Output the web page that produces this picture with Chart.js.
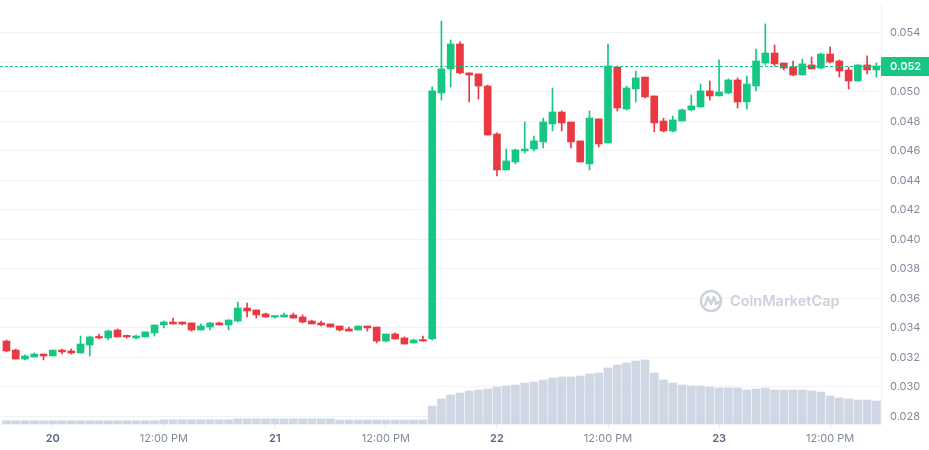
<!DOCTYPE html>
<html>
<head>
<meta charset="utf-8">
<script src="https://cdn.jsdelivr.net/npm/chart.js@4.4.1/dist/chart.umd.min.js"></script>
<style>
  html, body { margin: 0; padding: 0; background: #fff; }
  #wrap { width: 929px; height: 450px; }
</style>
</head>
<body>
<div id="wrap"><canvas id="chart" width="929" height="450"></canvas></div>
<script>
// hourly candles, 19th 19:00 -> 23rd 17:00
const openPrices = [
  0.03310, 0.03249, 0.03188, 0.03202, 0.03222, 0.03209, 0.03249, 0.03243, 0.03229, 0.03283,
  0.03338, 0.03331, 0.03385, 0.03344, 0.03331, 0.03338, 0.03365, 0.03419, 0.03439, 0.03439,
  0.03433, 0.03385, 0.03405, 0.03433, 0.03419, 0.03446, 0.03534, 0.03521, 0.03494, 0.03473,
  0.03473, 0.03487, 0.03473, 0.03446, 0.03433, 0.03426, 0.03412, 0.03392, 0.03385, 0.03412,
  0.03405, 0.03310, 0.03358, 0.03331, 0.03297, 0.03317, 0.03324, 0.04992, 0.05155, 0.05324,
  0.05128, 0.05121, 0.05039, 0.04714, 0.04470, 0.04524, 0.04599, 0.04612, 0.04660, 0.04782,
  0.04863, 0.04795, 0.04667, 0.04511, 0.04816, 0.04653, 0.05168, 0.04883, 0.05019, 0.05100,
  0.04972, 0.04802, 0.04734, 0.04802, 0.04877, 0.04897, 0.05006, 0.04972, 0.04992, 0.05080,
  0.04931, 0.05039, 0.05195, 0.05263, 0.05195, 0.05168, 0.05114, 0.05182, 0.05161, 0.05256,
  0.05209, 0.05148, 0.05073, 0.05182, 0.05148
];
const highPrices = [
  0.03317, 0.03256, 0.03216, 0.03229, 0.03222, 0.03249, 0.03256, 0.03256, 0.03344, 0.03344,
  0.03358, 0.03385, 0.03392, 0.03351, 0.03351, 0.03372, 0.03419, 0.03446, 0.03466, 0.03439,
  0.03433, 0.03426, 0.03433, 0.03439, 0.03453, 0.03575, 0.03568, 0.03521, 0.03500, 0.03480,
  0.03500, 0.03500, 0.03487, 0.03453, 0.03446, 0.03426, 0.03412, 0.03405, 0.03412, 0.03412,
  0.03405, 0.03358, 0.03365, 0.03338, 0.03324, 0.03344, 0.05033, 0.05480, 0.05351, 0.05338,
  0.05128, 0.05121, 0.05046, 0.04721, 0.04612, 0.04612, 0.04795, 0.04700, 0.04822, 0.05026,
  0.04870, 0.04795, 0.04667, 0.04870, 0.04816, 0.05324, 0.05175, 0.05039, 0.05141, 0.05100,
  0.04972, 0.04822, 0.04836, 0.04883, 0.04978, 0.05053, 0.05073, 0.05216, 0.05087, 0.05094,
  0.05107, 0.05290, 0.05460, 0.05317, 0.05195, 0.05209, 0.05222, 0.05236, 0.05263, 0.05304,
  0.05216, 0.05168, 0.05182, 0.05243, 0.05195
];
const lowPrices = [
  0.03236, 0.03188, 0.03182, 0.03202, 0.03182, 0.03209, 0.03222, 0.03222, 0.03229, 0.03209,
  0.03324, 0.03317, 0.03338, 0.03331, 0.03324, 0.03338, 0.03344, 0.03399, 0.03426, 0.03419,
  0.03378, 0.03385, 0.03385, 0.03419, 0.03385, 0.03439, 0.03473, 0.03466, 0.03473, 0.03466,
  0.03473, 0.03466, 0.03433, 0.03426, 0.03412, 0.03405, 0.03378, 0.03378, 0.03385, 0.03378,
  0.03297, 0.03304, 0.03324, 0.03290, 0.03297, 0.03310, 0.03317, 0.04944, 0.05033, 0.05121,
  0.04931, 0.04951, 0.04707, 0.04429, 0.04470, 0.04511, 0.04585, 0.04599, 0.04619, 0.04734,
  0.04734, 0.04619, 0.04524, 0.04470, 0.04626, 0.04653, 0.04870, 0.04877, 0.04931, 0.04958,
  0.04728, 0.04728, 0.04728, 0.04802, 0.04870, 0.04897, 0.04944, 0.04972, 0.04985, 0.04890,
  0.04883, 0.05006, 0.05182, 0.05175, 0.05148, 0.05107, 0.05114, 0.05155, 0.05155, 0.05195,
  0.05100, 0.05019, 0.05073, 0.05121, 0.05100
];
const closePrices = [
  0.03243, 0.03188, 0.03209, 0.03222, 0.03209, 0.03249, 0.03236, 0.03229, 0.03290, 0.03338,
  0.03331, 0.03378, 0.03338, 0.03338, 0.03344, 0.03372, 0.03419, 0.03439, 0.03426, 0.03426,
  0.03385, 0.03412, 0.03433, 0.03419, 0.03453, 0.03534, 0.03514, 0.03487, 0.03473, 0.03480,
  0.03487, 0.03466, 0.03439, 0.03426, 0.03419, 0.03405, 0.03385, 0.03378, 0.03412, 0.03399,
  0.03310, 0.03358, 0.03324, 0.03290, 0.03317, 0.03310, 0.05006, 0.05155, 0.05324, 0.05128,
  0.05114, 0.05039, 0.04707, 0.04470, 0.04531, 0.04606, 0.04612, 0.04667, 0.04795, 0.04863,
  0.04789, 0.04660, 0.04524, 0.04822, 0.04646, 0.05175, 0.04890, 0.05026, 0.05094, 0.04965,
  0.04789, 0.04734, 0.04809, 0.04877, 0.04904, 0.05006, 0.04972, 0.04999, 0.05080, 0.04931,
  0.05053, 0.05209, 0.05263, 0.05189, 0.05161, 0.05114, 0.05189, 0.05155, 0.05256, 0.05202,
  0.05141, 0.05073, 0.05182, 0.05148, 0.05175
];
// volume (thousands)
const volumes = [
  33, 33, 33, 33, 33, 33, 33, 33, 33, 33, 33, 33, 33, 33, 33, 33, 33,
  42, 42, 42, 42, 42, 42, 42, 42,
  52, 52, 52, 52, 52, 52, 52, 52, 52, 52, 52,
  40, 40, 40, 40, 40, 40, 40, 40, 40, 40,
  180, 250, 290, 310, 330, 340, 350, 370, 380, 390,
  410, 420, 440, 460, 470, 470, 480, 500, 510, 560,
  590, 610, 630, 640, 510, 440, 410, 390, 380, 380,
  370, 360, 360, 360, 340, 350, 360, 340, 340, 340,
  340, 330, 320, 280, 260, 250, 240, 240, 230
];
const xTickHours = [5, 17, 29, 41, 53, 65, 77, 89];
const xTickLabels = ['20', '12:00 PM', '21', '12:00 PM', '22', '12:00 PM', '23', '12:00 PM'];
const priceTicks = [0.028, 0.030, 0.032, 0.034, 0.036, 0.038, 0.040, 0.042, 0.044, 0.046, 0.048, 0.050, 0.052, 0.054];
const lastPrice = closePrices[closePrices.length - 1];

const UP = '#16c784';
const DOWN = '#ea3943';
const fontFamily = "Inter, 'Noto Sans', sans-serif";
const candleColors = openPrices.map((o, i) => closePrices[i] >= o ? UP : DOWN);

const overlayPlugin = {
  id: 'overlay',
  beforeDatasetsDraw(chart) {
    const { ctx, chartArea } = chart;
    // watermark
    const cx = chartArea.left + 711, cy = chartArea.top + 296;
    ctx.save();
    ctx.strokeStyle = '#ccd1db';
    ctx.lineWidth = 2.4;
    ctx.lineJoin = 'round';
    ctx.lineCap = 'round';
    ctx.beginPath();
    ctx.arc(cx, cy, 10, 0, Math.PI * 2);
    ctx.stroke();
    ctx.beginPath();
    ctx.moveTo(cx - 6, cy + 4);
    ctx.lineTo(cx - 3, cy - 4);
    ctx.lineTo(cx, cy + 3);
    ctx.lineTo(cx + 3, cy - 4);
    ctx.lineTo(cx + 5, cy + 3);
    ctx.lineTo(cx + 8, cy + 1);
    ctx.stroke();
    ctx.fillStyle = '#ccd1db';
    ctx.font = '600 14.5px ' + fontFamily;
    ctx.textBaseline = 'middle';
    ctx.fillText('CoinMarketCap', cx + 19, cy + 1);
    ctx.restore();
  },
  afterDatasetsDraw(chart) {
    const { ctx, chartArea, scales } = chart;
    const y = Math.round(scales.y.getPixelForValue(lastPrice)) + 0.5;
    ctx.save();
    ctx.strokeStyle = UP;
    ctx.lineWidth = 1;
    ctx.setLineDash([3, 2]);
    ctx.beginPath();
    ctx.moveTo(chartArea.left, y);
    ctx.lineTo(chartArea.right, y);
    ctx.stroke();
    ctx.setLineDash([]);
    ctx.fillStyle = UP;
    ctx.fillRect(chartArea.right, y - 9.5, chart.width - chartArea.right, 19);
    ctx.fillStyle = '#fff';
    ctx.font = '600 11px ' + fontFamily;
    ctx.textBaseline = 'middle';
    ctx.fillText(lastPrice.toFixed(3), chartArea.right + 9, y + 0.5);
    ctx.restore();
  }
};

new Chart(document.getElementById('chart'), {
  type: 'bar',
  data: {
    datasets: [
      {
        label: 'body',
        data: openPrices.map((o, i) => ({ x: i, y: [o, closePrices[i]] })),
        backgroundColor: candleColors,
        barThickness: 7,
        minBarLength: 1.5,
        grouped: false,
        order: 1,
        yAxisID: 'y'
      },
      {
        label: 'wick',
        data: lowPrices.map((l, i) => ({ x: i, y: [l, highPrices[i]] })),
        backgroundColor: candleColors,
        barThickness: 1,
        grouped: false,
        order: 2,
        yAxisID: 'y'
      },
      {
        label: 'volume',
        data: volumes.map((v, i) => ({ x: i, y: v })),
        backgroundColor: '#cfd6e4',
        barThickness: 8,
        grouped: false,
        order: 3,
        yAxisID: 'yv'
      }
    ]
  },
  options: {
    responsive: false,
    animation: false,
    layout: { padding: { top: 5, left: 0, right: 0, bottom: 0 } },
    plugins: {
      legend: { display: false },
      tooltip: { enabled: false }
    },
    scales: {
      x: {
        type: 'linear',
        offset: false,
        min: -0.7,
        max: 94.5,
        grid: { offset: false, drawOnChartArea: false, drawTicks: true, tickLength: 4, color: '#e3e6eb' },
        border: { display: true, color: '#eff2f5' },
        afterBuildTicks: axis => { axis.ticks = xTickHours.map(v => ({ value: v })); },
        afterFit: axis => { axis.height = 26; axis.paddingLeft = 0; axis.paddingRight = 0; },
        ticks: {
          autoSkip: false,
          maxRotation: 0,
          padding: 4,
          callback: (v, i) => xTickLabels[i],
          color: ctx => ctx.index % 2 === 0 ? '#58667e' : '#808a9d',
          font: ctx => ({ family: fontFamily, size: 11, weight: ctx.index % 2 === 0 ? '600' : '400' })
        }
      },
      y: {
        type: 'linear',
        position: 'right',
        min: 0.027477,
        max: 0.055884,
        grid: { color: '#f0f2f5', drawTicks: false },
        border: { display: true, color: '#eff2f5' },
        afterBuildTicks: axis => { axis.ticks = priceTicks.map(v => ({ value: v })); },
        afterFit: axis => { axis.width = 48; axis.paddingTop = 0; axis.paddingBottom = 0; },
        ticks: {
          padding: 9,
          color: '#808a9d',
          font: { family: fontFamily, size: 11 },
          callback: v => v.toFixed(3)
        }
      },
      yv: {
        type: 'linear',
        display: false,
        min: 0,
        max: 4190
      }
    }
  },
  plugins: [overlayPlugin]
});
</script>
</body>
</html>
